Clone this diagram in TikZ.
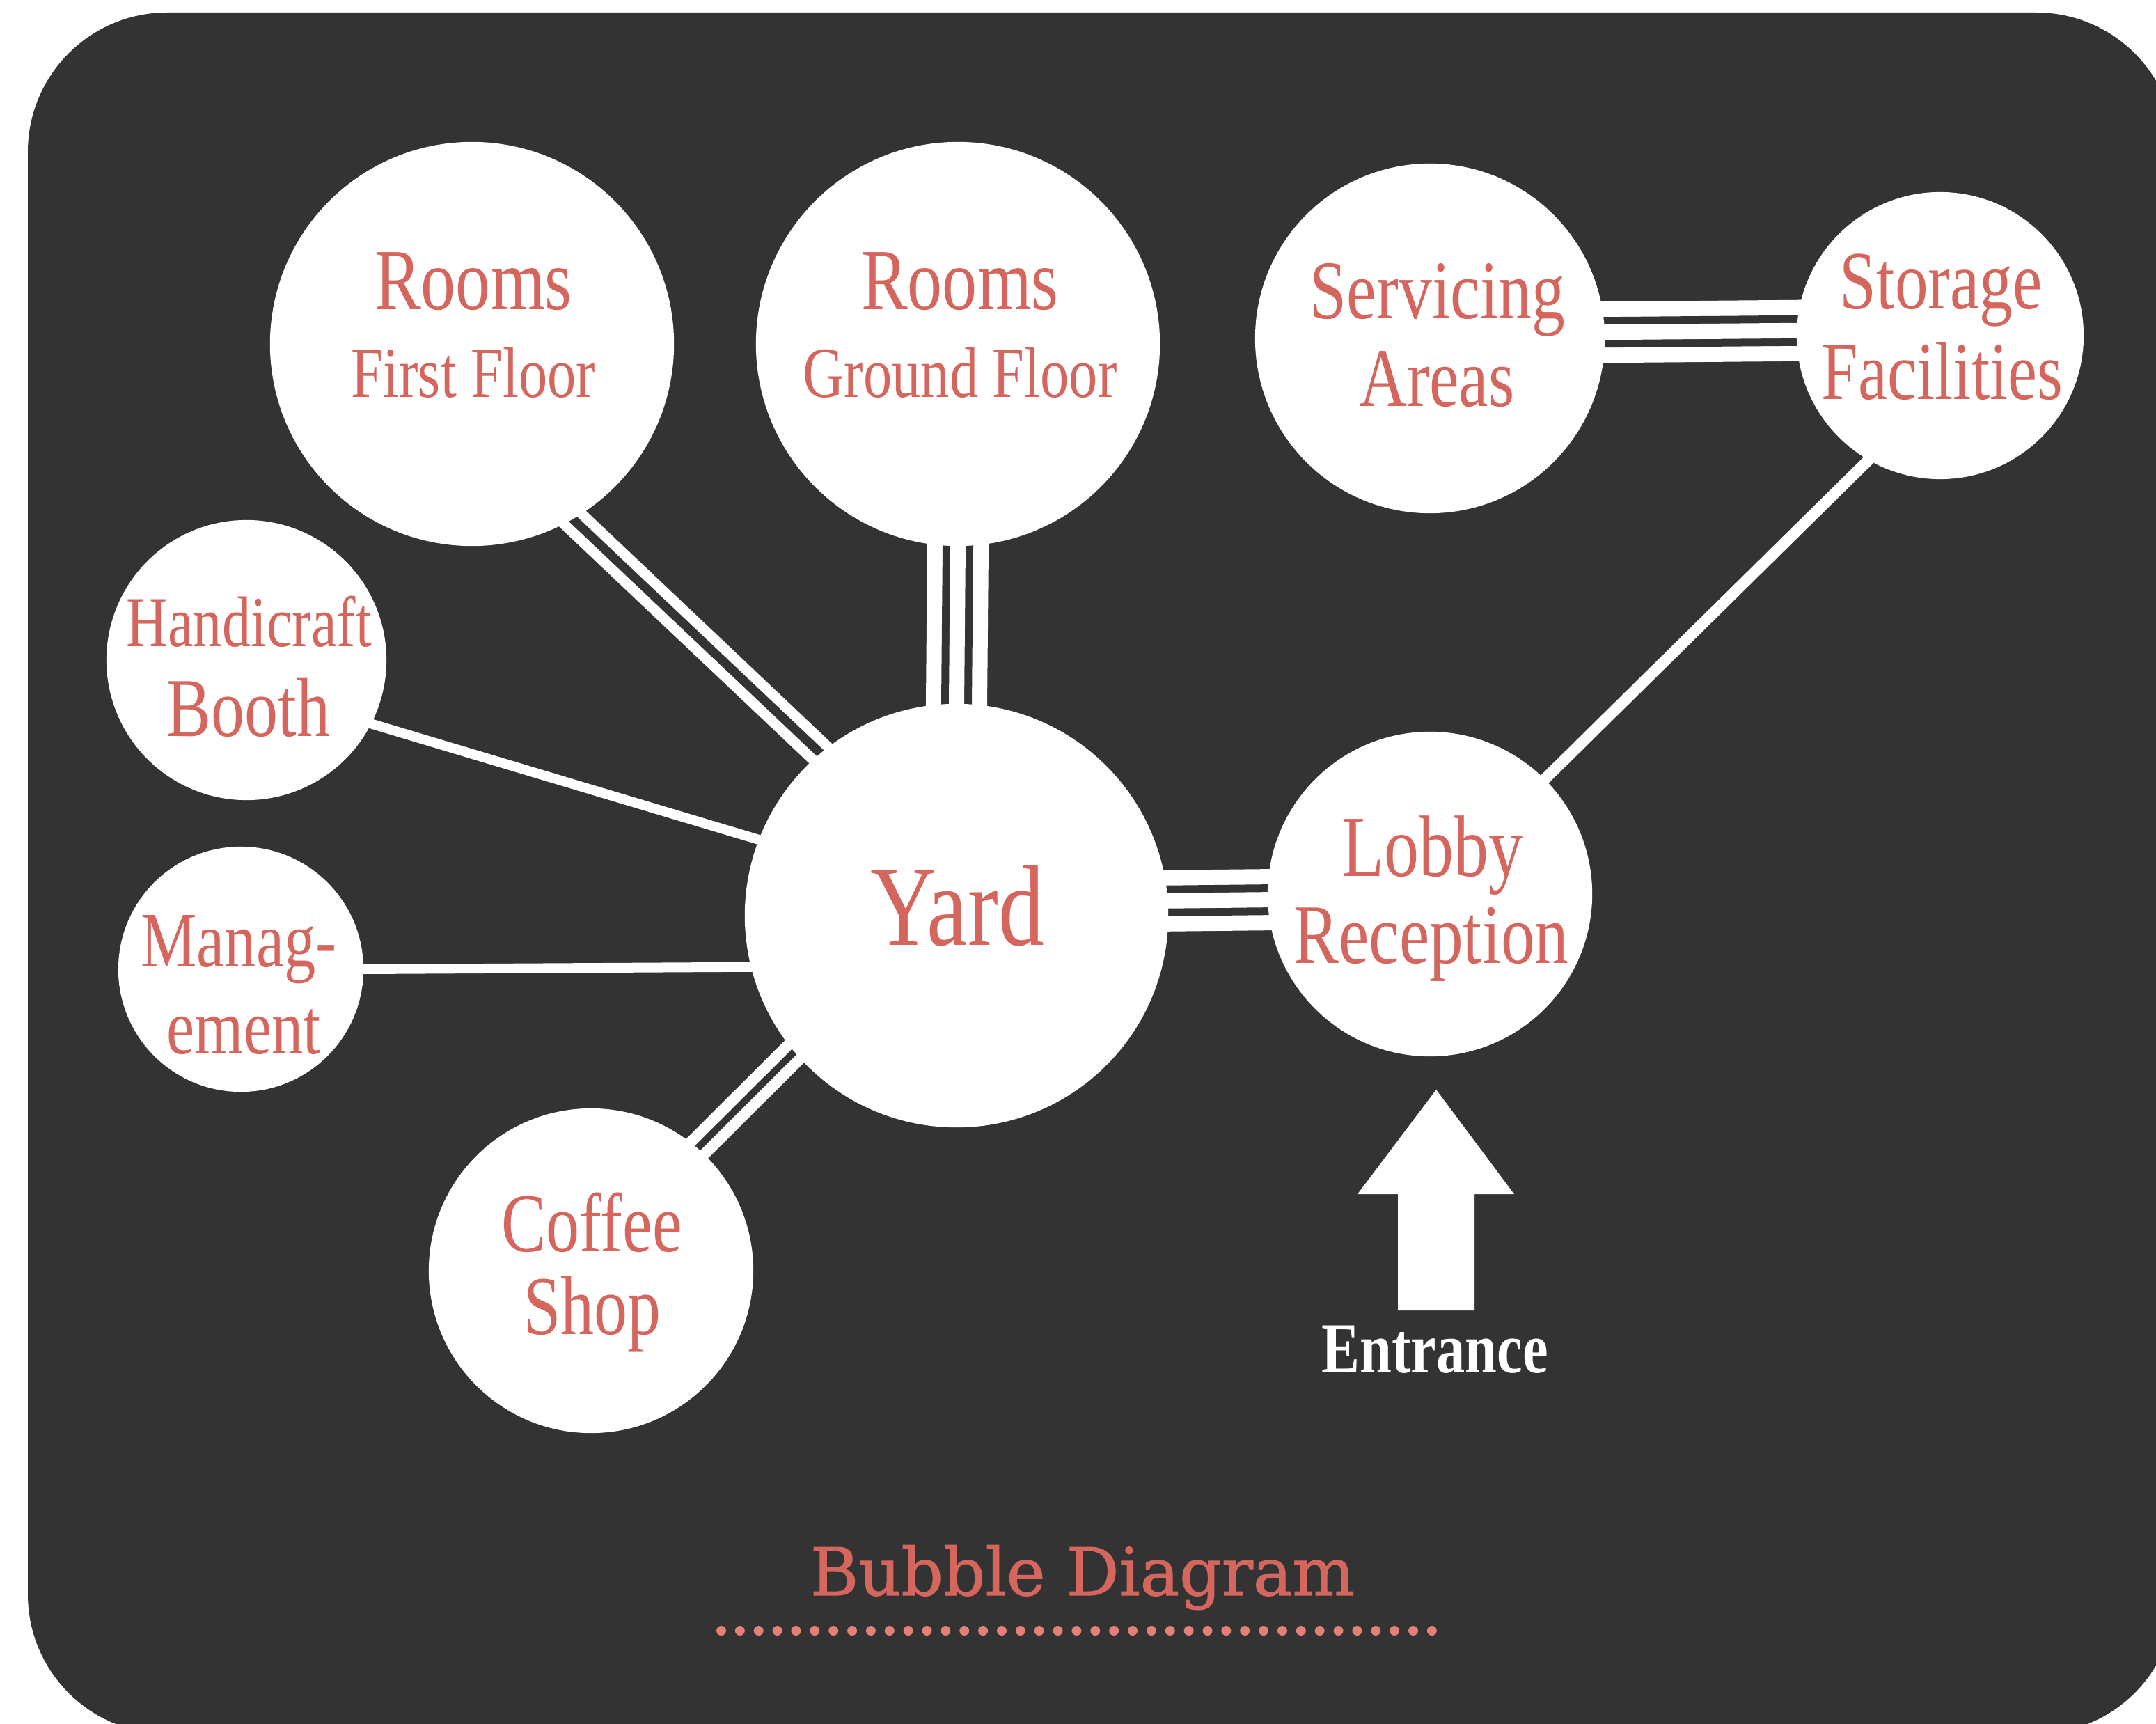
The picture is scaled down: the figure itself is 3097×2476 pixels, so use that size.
\documentclass[tikz,border=0pt]{standalone}
\usepackage{fontspec}
\setmainfont{Liberation Serif}[FakeStretch=0.8]
\newfontfamily\titlefont{DejaVu Serif}[FakeBold=1.2]
\definecolor{bgc}{RGB}{51,51,51}
\definecolor{txtc}{RGB}{212,102,94}
\definecolor{dotc}{RGB}{228,128,118}
\pgfdeclarelayer{back}
\pgfdeclarelayer{conn}
\pgfsetlayers{back,conn,main}
\newcommand{\fpx}[1]{\fontsize{#1pt}{#1pt}\selectfont}
\begin{document}
\begin{tikzpicture}[x=0.01cm,y=-0.01cm,
  bub/.style={circle, fill=white, draw=none, inner sep=0pt},
  lbl/.style={anchor=base, inner sep=0pt, text=txtc},
  ext/.style={shorten <=-0.3cm, shorten >=-0.3cm},
  triouter/.style={ext, draw=white, line width=0.22cm, double=bgc, double distance=0.44cm},
  triinner/.style={ext, draw=white, line width=0.22cm},
  dbl/.style={ext, draw=white, line width=0.15cm, double=bgc, double distance=0.13cm},
  sgl/.style={ext, draw=white, line width=0.14cm},
  dotline/.style={draw=dotc, line width=0.14cm, line cap=round, dash pattern=on 0pt off 0.2685cm}
]
\useasboundingbox (0,0) rectangle (3097,2476);
\begin{pgfonlayer}{back}
  \fill[white] (0,0) rectangle (3097,2476);
  \fill[bgc, rounded corners=2cm] (40,18) rectangle (3125,2490);
\end{pgfonlayer}

% bubbles
\node[bub, minimum size=5.80cm] (rff)  at (678,494)  {};
\node[bub, minimum size=5.80cm] (rgf)  at (1376,494) {};
\node[bub, minimum size=5.02cm] (sa)   at (2054,486) {};
\node[bub, minimum size=4.12cm] (sf)   at (2787,482) {};
\node[bub, minimum size=4.02cm] (hb)   at (354,948)  {};
\node[bub, minimum size=3.52cm] (mg)   at (346,1392) {};
\node[bub, minimum size=6.08cm] (yard) at (1374,1315) {};
\node[bub, minimum size=4.66cm] (lob)  at (2054,1284) {};
\node[bub, minimum size=4.66cm] (cs)   at (849,1825) {};

% connectors
\begin{pgfonlayer}{conn}
  \draw[triouter] (rgf.-90) -- (yard.90);
  \draw[triinner] (rgf.-90) -- (yard.90);
  \draw[triouter] (yard.4.3) -- (lob.182);
  \draw[triinner] (yard.4.3) -- (lob.182);
  \draw[triouter] (sa.2) -- (sf.178.6);
  \draw[triinner] (sa.2) -- (sf.178.6);
  \draw[dbl] (rff.-60) -- (yard.130.6);
  \draw[dbl, line width=0.16cm, double distance=0.10cm] (cs.49.1) -- (yard.220.9);
  \draw[sgl] (hb.-27.5) -- (yard.159.6);
  \draw[sgl] (mg.0) -- (yard.194.3);
  \draw[sgl, line width=0.16cm] (lob.45) -- (sf.240.7);
\end{pgfonlayer}

% labels
\node[lbl, font=\fpx{35.57}] (rff1) at (680,445) {Rooms};
\node[lbl, font=\fpx{29.31}] (rff2) at (680,570) {First Floor};
\node[lbl, font=\fpx{35.57}] (rgf1) at (1379,445) {Rooms};
\node[lbl, font=\fpx{29.31}] (rgf2) at (1379,570) {Ground Floor};
\node[lbl, font=\fpx{34.0}] (sa1) at (2065,458) {Servicing};
\node[lbl, font=\fpx{34.0}] (sa2) at (2064,583) {Areas};
\node[lbl, font=\fpx{33.8}] (sf1) at (2788,444) {Storage};
\node[lbl, font=\fpx{33.6}] (sf2) at (2790,573) {Facilities};
\node[lbl, font=\fpx{29.3}] (hb1) at (358,928) {Handicraft};
\node[lbl, font=\fpx{34.14}] (hb2) at (357,1057) {Booth};
\node[lbl, font=\fpx{32.15}] (mg1) at (343,1388) {Manag-};
\node[lbl, font=\fpx{32.15}] (mg2) at (350,1513) {ement};
\node[lbl, font=\fpx{46.8}] (yard1) at (1375,1357) {Yard};
\node[lbl, font=\fpx{35.57}] (lob1) at (2058,1258) {Lobby};
\node[lbl, font=\fpx{34.6}] (lob2) at (2056,1383) {Reception};
\node[lbl, font=\fpx{34.14}] (cs1) at (850,1797) {Coffee};
\node[lbl, font=\fpx{34.14}] (cs2) at (851,1916) {Shop};

% entrance arrow
\fill[white] (2063,1565) -- (2175,1715) -- (2118,1715) -- (2118,1882)
  -- (2008,1882) -- (2008,1715) -- (1950,1715) -- cycle;
\node[anchor=base, inner sep=0pt, text=white, font=\bfseries\fpx{29.31}] (ent) at (2061,1971) {Entrance};

% title
\node[anchor=base, inner sep=0pt, text=txtc, font=\titlefont\fpx{26.9}] (title) at (1555,2291) {Bubble Diagram};
\coordinate (d1) at (1036,2342);
\coordinate (d2) at (2083,2342);
\draw[dotline] (d1) -- (d2);
\end{tikzpicture}
\end{document}
